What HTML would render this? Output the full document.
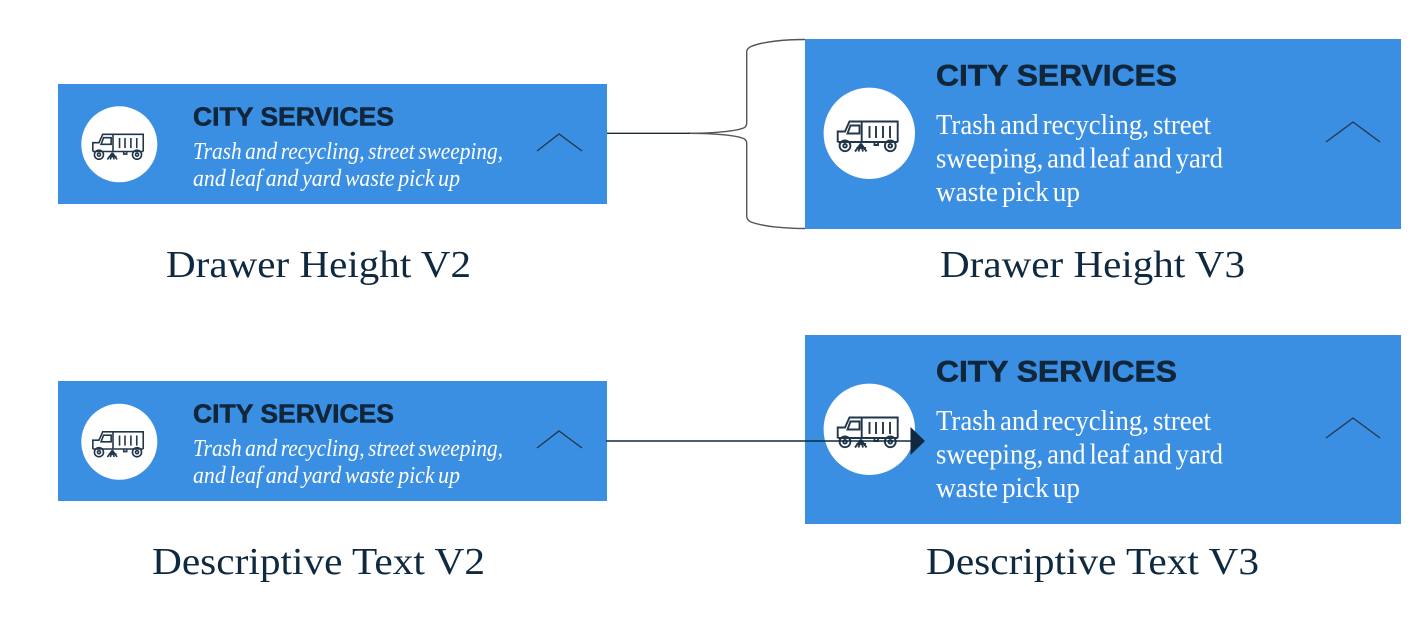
<!DOCTYPE html>
<html>
<head>
<meta charset="utf-8">
<style>
html,body{margin:0;padding:0;background:#fff;width:1422px;height:624px;overflow:hidden}
svg{display:block}
.h{font-family:"Liberation Sans",sans-serif;font-weight:700;fill:#10263a;stroke:#10263a;stroke-width:.55px}
.d{font-family:"Liberation Serif",serif;fill:#fff}
.ds{font-size:24px;font-style:italic;word-spacing:-2px}
.dl{font-size:29px;word-spacing:-3px}
.l{font-family:"Liberation Serif",serif;fill:#0f2a40;font-size:38px}
</style>
</head>
<body>
<svg width="1422" height="624" viewBox="0 0 1422 624" xmlns="http://www.w3.org/2000/svg">
<defs>
<g id="truck" fill="none" stroke="#22364a" stroke-width="1.900">
<circle cx="14" cy="33.800" r="5.400"/><circle cx="14" cy="33.800" r="1.800"/>
<circle cx="59.300" cy="33.800" r="5.400"/><circle cx="59.300" cy="33.800" r="1.800"/>
<path d="M30.700 30V9.500H66.700V30"/>
<path d="M6.700 30H66.700"/>
<path d="M6.700 30V19.500H14L18.500 9.500H30.700"/>
<path d="M19.500 13.500H28.500V21.500H16.500Z"/>
<path d="M38.500 14V26M45 14V26M52 14V26M59 14V26"/>
<path d="M30 31.500L24 39.500M30 31.500L27.500 39.500M30 31.500L32 39.500M30 31.500L35.500 39.500M25.500 36H35"/>
<path d="M43.500 30V33H47V30"/>
</g>
</defs>

<!-- Top-left card -->
<rect x="58" y="84" width="549" height="120" fill="#3b8fe2"/>
<circle cx="119.300" cy="144.300" r="38" fill="#fff"/>
<use href="#truck" transform="translate(87.200 126.300) scale(.84)"/>
<text x="193" y="125.500" class="h" font-size="26" textLength="201" lengthAdjust="spacingAndGlyphs">CITY SERVICES</text>
<text x="193" y="159" class="d ds" textLength="310" lengthAdjust="spacingAndGlyphs">Trash and recycling, street sweeping,</text>
<text x="193" y="186" class="d ds" textLength="267" lengthAdjust="spacingAndGlyphs">and leaf and yard waste pick up</text>
<path d="M537 151L559 134L582 151" fill="none" stroke="#22364a" stroke-width="1.300"/>

<!-- Bottom-left card -->
<rect x="58" y="381" width="549" height="120" fill="#3b8fe2"/>
<circle cx="119.300" cy="441.800" r="38" fill="#fff"/>
<use href="#truck" transform="translate(87.200 423.800) scale(.84)"/>
<text x="193" y="422.500" class="h" font-size="26" textLength="201" lengthAdjust="spacingAndGlyphs">CITY SERVICES</text>
<text x="193" y="456" class="d ds" textLength="310" lengthAdjust="spacingAndGlyphs">Trash and recycling, street sweeping,</text>
<text x="193" y="483" class="d ds" textLength="267" lengthAdjust="spacingAndGlyphs">and leaf and yard waste pick up</text>
<path d="M537 448L559 431L582 448" fill="none" stroke="#22364a" stroke-width="1.300"/>

<!-- Top-right card -->
<rect x="805" y="39" width="596" height="190" fill="#3b8fe2"/>
<circle cx="869.300" cy="133.300" r="45.700" fill="#fff"/>
<use href="#truck" transform="translate(831 112)"/>
<text x="936" y="85.500" class="h" font-size="30" textLength="241" lengthAdjust="spacingAndGlyphs">CITY SERVICES</text>
<text x="936" y="134" class="d dl" textLength="275" lengthAdjust="spacingAndGlyphs">Trash and recycling, street</text>
<text x="936" y="167.500" class="d dl" textLength="287" lengthAdjust="spacingAndGlyphs">sweeping, and leaf and yard</text>
<text x="936" y="201" class="d dl" textLength="144" lengthAdjust="spacingAndGlyphs">waste pick up</text>
<path d="M1326 142L1353 122L1380 142" fill="none" stroke="#22364a" stroke-width="1.300"/>

<!-- Bottom-right card -->
<rect x="805" y="335" width="596" height="189" fill="#3b8fe2"/>
<circle cx="869.300" cy="429.300" r="45.700" fill="#fff"/>
<use href="#truck" transform="translate(831 408)"/>
<text x="936" y="381.500" class="h" font-size="30" textLength="241" lengthAdjust="spacingAndGlyphs">CITY SERVICES</text>
<text x="936" y="430" class="d dl" textLength="275" lengthAdjust="spacingAndGlyphs">Trash and recycling, street</text>
<text x="936" y="463.500" class="d dl" textLength="287" lengthAdjust="spacingAndGlyphs">sweeping, and leaf and yard</text>
<text x="936" y="497" class="d dl" textLength="144" lengthAdjust="spacingAndGlyphs">waste pick up</text>
<path d="M1326 438L1353 418L1380 438" fill="none" stroke="#22364a" stroke-width="1.300"/>

<!-- Brace connector -->
<path d="M688 133.300C715 133.300 738 131 744.500 127.500Q746.700 126 746.700 123V52Q746.700 48.500 751 46.500C763 41.500 785 39.500 805 39.500" fill="none" stroke="#555" stroke-width="1.400"/>
<path d="M688 133.300C715 133.300 738 135.500 744.500 139Q746.700 140.500 746.700 143.500V216Q746.700 220 751 222C763 226.500 785 228.500 805 228.500" fill="none" stroke="#555" stroke-width="1.400"/>
<path d="M607 133.300H690" fill="none" stroke="#1b2a36" stroke-width="1.300"/>

<!-- Arrow connector -->
<path d="M606 441H912" fill="none" stroke="#0f2a40" stroke-width="1.500"/>
<path d="M910.500 427L925 441L910.500 455Z" fill="#0f2a40"/>

<!-- Labels -->
<text x="166" y="277" class="l" textLength="305" lengthAdjust="spacingAndGlyphs">Drawer Height V2</text>
<text x="940" y="277" class="l" textLength="305" lengthAdjust="spacingAndGlyphs">Drawer Height V3</text>
<text x="152" y="574" class="l" textLength="333" lengthAdjust="spacingAndGlyphs">Descriptive Text V2</text>
<text x="926" y="574" class="l" textLength="333" lengthAdjust="spacingAndGlyphs">Descriptive Text V3</text>
</svg>
</body>
</html>
